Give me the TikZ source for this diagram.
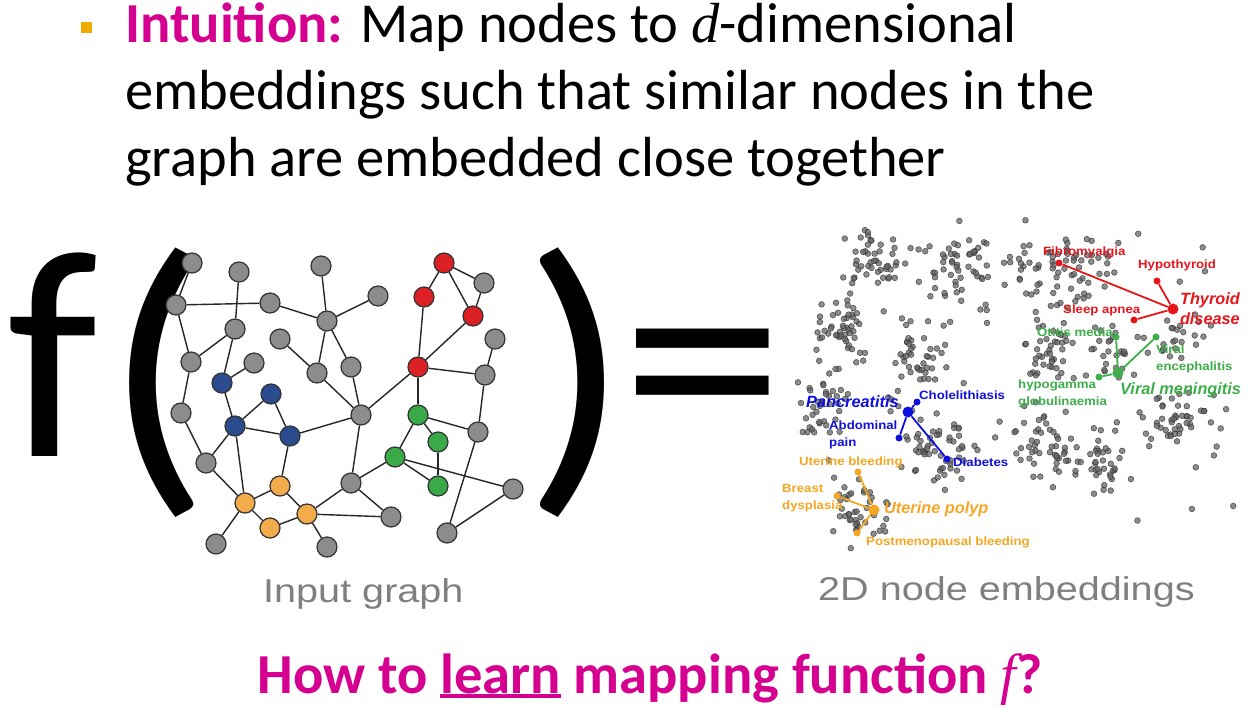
\documentclass[tikz,border=0pt]{standalone}
\usepackage{fontspec}
\setmainfont{Carlito}
\newfontfamily\parenfont[FakeStretch=1.15]{Carlito}
\newfontfamily\eqfont[FakeStretch=1.1]{Carlito}
\newfontfamily\capfont[FakeStretch=1.2]{Liberation Sans}
\newfontfamily\labfont[FakeStretch=1.1]{Liberation Sans}
\newfontfamily\bigfont{Liberation Sans}
\newfontfamily\serifit{Liberation Serif}
\definecolor{slidemag}{HTML}{D5008F}
\definecolor{bulletorange}{HTML}{EFAA00}
\definecolor{capgray}{HTML}{7F7F7F}
\definecolor{nodegray}{HTML}{8C8C8C}
\definecolor{nodered}{HTML}{DD1F26}
\definecolor{nodeblue}{HTML}{2B4B8F}
\definecolor{nodegreen}{HTML}{3AAA48}
\definecolor{nodeorange}{HTML}{F2AC4B}
\definecolor{embred}{HTML}{E8151B}
\definecolor{embgreen}{HTML}{3DAE49}
\definecolor{embblue}{HTML}{1010DC}
\definecolor{emborange}{HTML}{F5A623}
\newcommand{\ulword}[1]{\setbox0\hbox{#1}\rlap{\rule[-4.5pt]{\wd0}{4pt}}\box0\relax}

\begin{document}
\begin{tikzpicture}[
        x=1pt, y=-1pt,
        titleline/.style={anchor=base west, inner sep=0pt, font=\fontsize{56.5}{67}\selectfont},
        bulletsq/.style={rectangle, fill=bulletorange, minimum size=11pt, inner sep=0pt},
        bigsym/.style={anchor=base west, inner sep=0pt, font=\fontsize{297}{300}\selectfont},
        bigparen/.style={anchor=base west, inner sep=0pt, font=\parenfont\fontsize{310}{310}\selectfont},
        caption/.style={anchor=base west, inner sep=0pt, text=capgray, font=\capfont\fontsize{33}{40}\selectfont},
        vert/.style={circle, draw=black!80, line width=1.2pt, minimum size=20pt, inner sep=0pt, fill=nodegray},
        rvert/.style={vert, fill=nodered},
        bvert/.style={vert, fill=nodeblue},
        gvert/.style={vert, fill=nodegreen},
        overt/.style={vert, fill=nodeorange},
        edge/.style={draw=black!85, line width=1.4pt},
        embdot/.style={fill=black!60, draw=black!85, line width=0.5pt, opacity=0.75},
        hub/.style={circle, inner sep=0pt, minimum size=11pt},
        leaf/.style={circle, inner sep=0pt, minimum size=7pt},
        link/.style={line width=1.8pt},
        lab/.style={anchor=west, inner sep=0pt, align=left, font=\labfont\bfseries\fontsize{12}{16.5}\selectfont},
        biglab/.style={anchor=west, inner sep=0pt, font=\bigfont\bfseries\itshape\fontsize{16.3}{20}\selectfont}
    ]
        \useasboundingbox (0,0) rectangle (1252,708);

        \node[bulletsq] (bullet) at (86.5,27.5) {};
        \node[titleline] (line1) at (125,43) {{\bfseries\color{slidemag}Intuition:} Map nodes to {\serifit\itshape d}-dimensional};
        \node[titleline] (line2) at (125,110) {embeddings such that similar nodes in the};
        \node[titleline] (line3) at (125,177) {graph are embedded close together};

        \pgfmathsetseed{7}
        \foreach \cx/\cy/\sx/\sy/\n in {875/255/30/28/48, 955/270/40/45/58, 850/325/30/35/48,
            918/350/27/33/42, 823/410/24/42/40, 935/448/45/40/58, 858/505/30/37/42,
            1068/265/62/34/75, 1052/350/28/30/42, 1110/358/25/30/26, 1180/340/35/22/22,
            1178/425/42/30/48, 1043/447/32/40/48, 1100/462/27/35/38}{
            \foreach \k in {1,...,\n}{
                \pgfmathsetmacro\px{\cx+\sx*(rand+rand+rand)/2}
                \pgfmathsetmacro\py{\cy+\sy*(rand+rand+rand)/2}
                \filldraw[embdot] (\px,\py) circle[radius=2.9pt];
            }
        }
        \foreach \k in {1,...,26}{
            \pgfmathsetmacro\px{1020+215*rand}
            \pgfmathsetmacro\py{385+150*rand}
            \filldraw[embdot] (\px,\py) circle[radius=2.9pt];
        }

        \node[bigsym] (fsym) at (7,456) {f};
        \node[bigparen] (lparen) at (103,474) {(};
        \node[bigparen] (rparen) at (522,474) {)};
        \node[bigsym, font=\eqfont\fontsize{297}{300}\selectfont] (eqsym) at (621,456) {=};

        \node[vert] (v1) at (192,263) {};
        \node[vert] (v2) at (239,272) {};
        \node[vert] (v3) at (321,266) {};
        \node[rvert] (v4) at (444,263) {};
        \node[vert] (v5) at (484,283) {};
        \node[rvert] (v6) at (424,297) {};
        \node[rvert] (v7) at (473,316) {};
        \node[vert] (v8) at (378,296) {};
        \node[vert] (v9) at (176,305) {};
        \node[vert] (v10) at (270,303) {};
        \node[vert] (v11) at (327,321) {};
        \node[vert] (v12) at (235,329) {};
        \node[vert] (v13) at (495,339) {};
        \node[vert] (v14) at (280,339) {};
        \node[vert] (v15) at (191,362) {};
        \node[vert] (v16) at (254,363) {};
        \node[vert] (v17) at (317,373) {};
        \node[vert] (v18) at (351,367) {};
        \node[rvert] (v19) at (418,367) {};
        \node[vert] (v20) at (485,375) {};
        \node[bvert] (v21) at (222,383) {};
        \node[bvert] (v22) at (271,394) {};
        \node[vert] (v23) at (181,413) {};
        \node[vert] (v24) at (361,415) {};
        \node[gvert] (v25) at (418,415) {};
        \node[bvert] (v26) at (235,426) {};
        \node[bvert] (v27) at (290,436) {};
        \node[gvert] (v28) at (438,442) {};
        \node[vert] (v29) at (478,432) {};
        \node[gvert] (v30) at (395,457) {};
        \node[vert] (v31) at (206,463) {};
        \node[vert] (v32) at (351,483) {};
        \node[gvert] (v33) at (438,486) {};
        \node[overt] (v34) at (280,486) {};
        \node[vert] (v35) at (513,489) {};
        \node[overt] (v36) at (245,503) {};
        \node[overt] (v37) at (307,514) {};
        \node[vert] (v38) at (391,517) {};
        \node[overt] (v39) at (270,528) {};
        \node[vert] (v40) at (447,533) {};
        \node[vert] (v41) at (216,544) {};
        \node[vert] (v42) at (327,547) {};

        \foreach \a/\b in {1/9, 9/10, 10/11, 2/12, 9/15, 12/15, 12/21, 21/16, 15/23, 23/31,
            21/26, 26/22, 22/27, 26/27, 26/31, 26/36, 31/36, 27/34, 27/24, 34/36, 34/37,
            36/39, 39/37, 36/41, 37/42, 37/38, 37/32, 32/38, 32/24, 32/30, 3/11, 8/11,
            11/17, 11/18, 14/17, 17/24, 18/24, 24/19, 19/6, 19/7, 4/6, 4/5, 4/7, 5/7,
            19/20, 13/20, 19/25, 25/29, 25/28, 25/30, 28/33, 30/33, 30/35, 20/29, 29/40, 40/35}
            \draw[edge] (v\a) -- (v\b);

        \node[hub, fill=embred] (thyroid) at (1173,309) {};
        \node[leaf, fill=embred] (fibro) at (1059,263) {};
        \node[leaf, fill=embred] (hypo) at (1157,281) {};
        \node[leaf, fill=embred] (sleep) at (1134,320) {};
        \draw[link, embred] (fibro) -- (thyroid);
        \draw[link, embred] (hypo) -- (thyroid);
        \draw[link, embred] (sleep) -- (thyroid);

        \node[hub, fill=embgreen] (mening) at (1118,373) {};
        \node[leaf, fill=embgreen] (otitis) at (1116,337) {};
        \node[leaf, fill=embgreen] (enceph) at (1156,337) {};
        \node[leaf, fill=embgreen] (hypog) at (1099,377) {};
        \draw[link, embgreen] (otitis) -- (mening);
        \draw[link, embgreen] (enceph) -- (mening);
        \draw[link, embgreen] (hypog) -- (mening);

        \node[hub, fill=embblue] (pancr) at (908,412) {};
        \node[leaf, fill=embblue] (chole) at (917,402) {};
        \node[leaf, fill=embblue] (abdo) at (899,438) {};
        \node[leaf, fill=embblue] (diab) at (947,459) {};
        \draw[link, embblue] (chole) -- (pancr);
        \draw[link, embblue] (abdo) -- (pancr);
        \draw[link, embblue] (diab) -- (pancr);

        \node[hub, fill=emborange] (polyp) at (874,510) {};
        \node[leaf, fill=emborange] (utbleed) at (858,472) {};
        \node[leaf, fill=emborange] (breast) at (837,496) {};
        \node[leaf, fill=emborange] (postmeno) at (857,533) {};
        \draw[link, emborange] (utbleed) -- (polyp);
        \draw[link, emborange] (breast) -- (polyp);
        \draw[link, emborange] (postmeno) -- (polyp);

        \node[lab, text=embred] (fibrolab) at (1043,252) {Fibromyalgia};
        \node[lab, text=embred] (hypolab) at (1138,265) {Hypothyroid};
        \node[lab, text=embred] (sleeplab) at (1063,310) {Sleep apnea};
        \node[biglab, text=embred, anchor=east, align=right] (thyroidlab) at (1240,309) {Thyroid\\disease};
        \node[lab, text=embgreen] (otitislab) at (1037,332) {Otitis media};
        \node[lab, text=embgreen] (encephlab) at (1156,359) {Viral\\encephalitis};
        \node[lab, text=embgreen] (hypoglab) at (1018,394) {hypogamma\\globulinaemia};
        \node[biglab, text=embgreen] (meninglab) at (1120,390) {Viral meningitis};
        \node[biglab, text=embblue] (pancrlab) at (806,402) {Pancreatitis};
        \node[lab, text=embblue] (cholelab) at (919,395) {Cholelithiasis};
        \node[lab, text=embblue] (abdolab) at (829,435) {Abdominal\\pain};
        \node[lab, text=embblue] (diablab) at (953,462) {Diabetes};
        \node[lab, text=emborange] (utbleedlab) at (799,462) {Uterine bleeding};
        \node[lab, text=emborange] (breastlab) at (782,498) {Breast\\dysplasia};
        \node[biglab, text=emborange] (polyplab) at (884,509) {Uterine polyp};
        \node[lab, text=emborange] (postmenolab) at (866,542) {Postmenopausal bleeding};

        \node[caption] (graphcap) at (263,602) {Input graph};
        \node[caption] (embcap) at (818,600) {2D node embeddings};

        \node[anchor=base, inner sep=0pt, text=slidemag, font=\bfseries\fontsize{56.5}{67}\selectfont] (question) at (650,693)
            {How to \ulword{learn} mapping function {\serifit\mdseries\itshape f}?};
    \end{tikzpicture}
\end{document}
